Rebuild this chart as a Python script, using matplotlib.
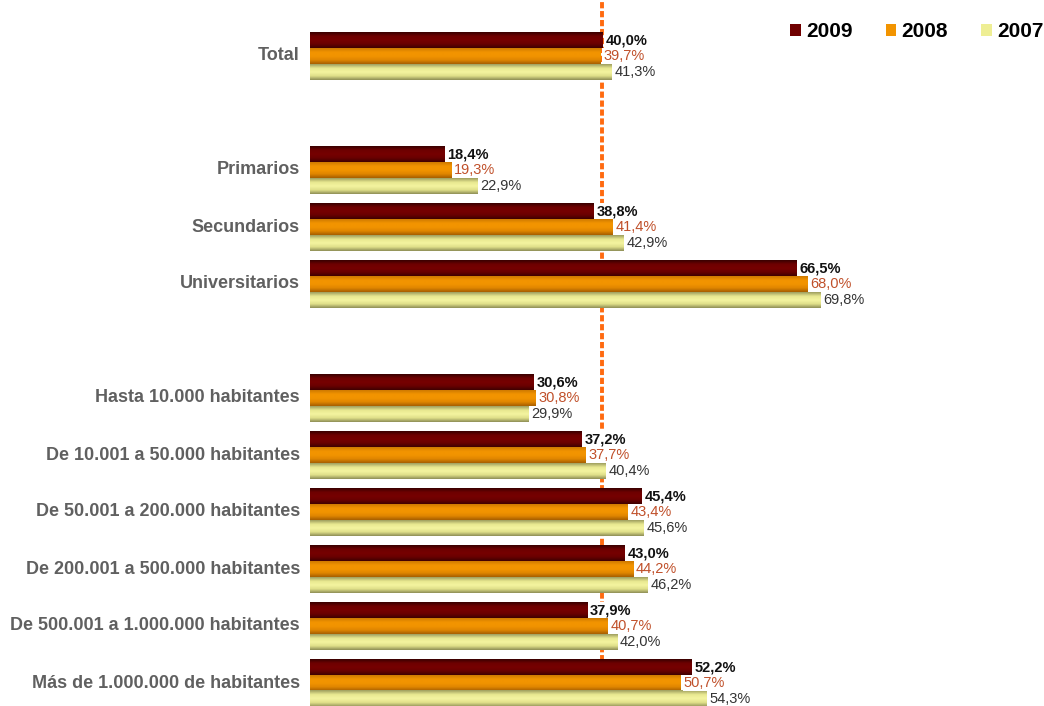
import numpy as np
import matplotlib
matplotlib.use("Agg")
import matplotlib.pyplot as plt
from matplotlib.patches import Patch
from matplotlib.colors import LinearSegmentedColormap

plt.rcParams['font.family'] = ['Liberation Sans', 'DejaVu Sans']

categories = ["Total", "Primarios", "Secundarios", "Universitarios",
              "Hasta 10.000 habitantes", "De 10.001 a 50.000 habitantes",
              "De 50.001 a 200.000 habitantes", "De 200.001 a 500.000 habitantes",
              "De 500.001 a 1.000.000 habitantes", "Más de 1.000.000 de habitantes"]
slots = [0, 2, 3, 4, 6, 7, 8, 9, 10, 11]
v2009 = [40.0, 18.4, 38.8, 66.5, 30.6, 37.2, 45.4, 43.0, 37.9, 52.2]
v2008 = [39.7, 19.3, 41.4, 68.0, 30.8, 37.7, 43.4, 44.2, 40.7, 50.7]
v2007 = [41.3, 22.9, 42.9, 69.8, 29.9, 40.4, 45.6, 46.2, 42.0, 54.3]
series_names = ["2009", "2008", "2007"]
reference_value = 40.0

fig = plt.figure(figsize=(10.44, 7.06), dpi=100)
ax = fig.add_axes([310/1044, 0, (1041-310)/1044, 1])
ax.set_xlim(0, 100)
top = -56/57
bottom = (706-56)/57
ax.set_ylim(bottom, top)
ax.axis('off')

bh = 0.28
grads = [
    ["#3a0000", "#6e0000", "#760000", "#6a0000", "#400000"],
    ["#d07a00", "#f29400", "#f29400", "#e08600", "#a86000"],
    ["#a0a060", "#e8e890", "#f4f4a0", "#e0e08a", "#909058"],
]
flat = ["#700000", "#f29400", "#eeee94"]
lbl_colors = ["#111111", "#c0502a", "#333333"]
lbl_weights = ["bold", "normal", "normal"]

for si, vals in enumerate([v2009, v2008, v2007]):
    cmap = LinearSegmentedColormap.from_list("g%d" % si, grads[si])
    grad = np.linspace(0, 1, 32).reshape(-1, 1)
    for s, v in zip(slots, vals):
        yc = s + (si - 1) * bh
        y0, y1 = yc - bh / 2, yc + bh / 2
        ax.imshow(grad, cmap=cmap, aspect='auto', extent=(0, v, y1, y0),
                  interpolation='bilinear', zorder=2)
        ax.text(v + 0.4, yc, ("%.1f%%" % v).replace('.', ','),
                ha='left', va='center', fontsize=10.5, color=lbl_colors[si],
                fontweight=lbl_weights[si], zorder=4,
                bbox=dict(boxstyle='square,pad=0.05', fc='white', ec='none'))

ax.set_ylim(bottom, top)
ax.set_xlim(0, 100)
ax.axvline(reference_value, color="#ff6a10", lw=2.8, ls=(0, (1.6, 0.7)), zorder=1)

for s, c in zip(slots, categories):
    fig.text(300/1044, 1 - (56 + s*57)/706, c, ha='right', va='center',
             fontsize=13, fontweight='bold', color='#606060')

handles = [Patch(facecolor=flat[i], edgecolor='none') for i in range(3)]
fig.legend(handles, series_names, loc='upper right', bbox_to_anchor=(1060/1044, 0.992),
           ncol=3, frameon=False, handlelength=0.5, handleheight=0.5,
           handletextpad=0.25, columnspacing=1.6, borderpad=0.3,
           prop=dict(size=15, weight='bold'))

fig.savefig("out.png", dpi=100, facecolor='white')
